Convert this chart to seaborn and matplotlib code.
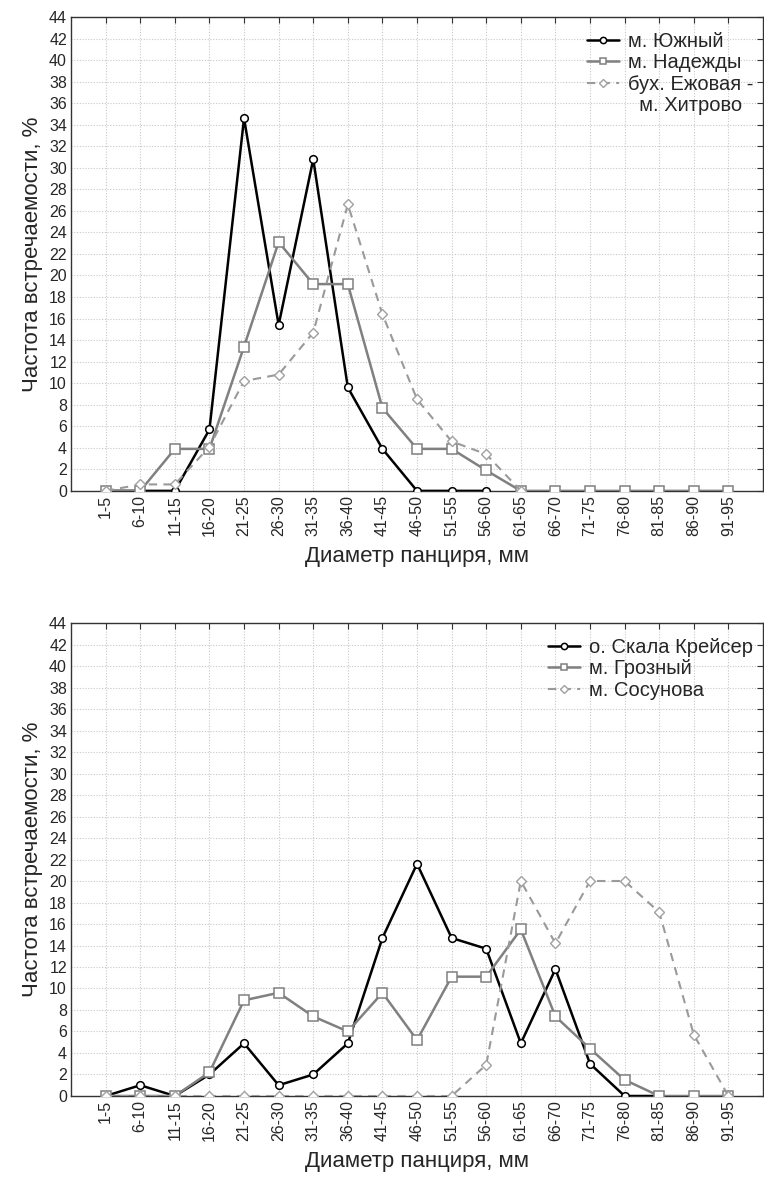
import numpy as np
import pandas as pd
import matplotlib
matplotlib.use("Agg")
import matplotlib.pyplot as plt
from matplotlib.lines import Line2D
import seaborn as sns

categories = ["1-5", "6-10", "11-15", "16-20", "21-25", "26-30", "31-35", "36-40",
              "41-45", "46-50", "51-55", "56-60", "61-65", "66-70", "71-75", "76-80",
              "81-85", "86-90", "91-95"]
nan = np.nan

# Top panel
yuzhny = [0, 0, 0, 5.7, 34.6, 15.4, 30.8, 9.6, 3.9, 0, 0, 0,
          nan, nan, nan, nan, nan, nan, nan]
nadezhdy = [0, 0, 3.9, 3.9, 13.4, 23.1, 19.2, 19.2, 7.7, 3.9, 3.9, 1.9,
            0, 0, 0, 0, 0, 0, 0]
ezhovaya = [0, 0.6, 0.6, 4.1, 10.2, 10.8, 14.7, 26.6, 16.4, 8.5, 4.6, 3.4,
            0, nan, nan, nan, nan, nan, nan]

# Bottom panel
kreiser = [0, 1.0, 0, 2.0, 4.9, 1.0, 2.0, 4.9, 14.7, 21.6, 14.7, 13.7,
           4.9, 11.8, 3.0, 0, 0, nan, nan]
grozny = [0, 0, 0, 2.2, 8.9, 9.6, 7.4, 6.0, 9.6, 5.2, 11.1, 11.1,
          15.5, 7.4, 4.4, 1.5, 0, 0, 0]
sosunova = [0, 0, 0, 0, 0, 0, 0, 0, 0, 0, 0, 2.9,
            20.0, 14.2, 20.0, 20.0, 17.1, 5.7, 0]

top_labels = ["м. Южный", "м. Надежды", "бух. Ежовая -", "  м. Хитрово"]
bottom_labels = ["о. Скала Крейсер", "м. Грозный", "м. Сосунова"]
xlabel = "Диаметр панциря, мм"
ylabel = "Частота встречаемости, %"

sns.set_style("white")
plt.rcParams["font.family"] = ["Liberation Sans", "DejaVu Sans"]

fig = plt.figure(figsize=(7.64, 11.8), dpi=100)
ax1 = fig.add_axes([0.093, 0.584, 0.9057, 0.4016])
ax2 = fig.add_axes([0.093, 0.0712, 0.9057, 0.4008])

styles = [
    dict(color="black", lw=1.8, marker="o", ms=5.5, mfc="white", mec="black", mew=1.1, ls="-"),
    dict(color="#808080", lw=1.8, marker="s", ms=7.5, mfc="white", mec="#808080", mew=1.1, ls="-"),
    dict(color="#9a9a9a", lw=1.5, marker="D", ms=5.5, mfc="white", mec="#a0a0a0", mew=1.0,
         ls=(0, (4, 3))),
]

x = np.arange(len(categories))

def draw(ax, series, labels):
    handles = []
    for vals, st in zip(series, styles):
        df = pd.DataFrame({"x": x, "y": vals}).dropna()
        sns.lineplot(data=df, x="x", y="y", ax=ax, color=st["color"], linewidth=st["lw"],
                     marker=st["marker"], markersize=st["ms"], markerfacecolor=st["mfc"],
                     markeredgecolor=st["mec"], markeredgewidth=st["mew"],
                     linestyle=st["ls"], legend=False, zorder=3)
        handles.append(ax.lines[-1])
    ax.set_xlim(-1, len(categories))
    ax.set_ylim(0, 44)
    ax.set_yticks(np.arange(0, 45, 2))
    ax.set_xticks(x)
    ax.set_xticklabels(categories, rotation=90, fontsize=11.5)
    ax.tick_params(axis="y", labelsize=11.5)
    ax.tick_params(direction="in", length=4, width=0.8, top=True, right=True,
                   color="#333333", pad=3)
    ax.grid(True, linestyle=(0, (1, 1.5)), color="#c8c8c8", linewidth=0.8)
    ax.set_axisbelow(True)
    for s in ax.spines.values():
        s.set_color("#333333")
        s.set_linewidth(1.0)
        s.set_visible(True)
    ax.set_xlabel(xlabel, fontsize=16, labelpad=7)
    ax.set_ylabel(ylabel, fontsize=16, labelpad=4)
    if len(labels) > len(handles):
        handles = handles + [Line2D([], [], linestyle="none", marker=None)] * (len(labels) - len(handles))
    leg = ax.legend(handles=handles, labels=labels, loc="upper right", frameon=False,
                    fontsize=14.5, handlelength=1.6, handletextpad=0.45, labelspacing=0.12,
                    borderaxespad=0.25, numpoints=1, bbox_to_anchor=(1.005, 0.996))
    for h in leg.legend_handles:
        if h is not None:
            h.set_markersize(4.5)
    return leg

draw(ax1, [yuzhny, nadezhdy, ezhovaya], top_labels)
draw(ax2, [kreiser, grozny, sosunova], bottom_labels)

fig.savefig("out.png", dpi=100)
